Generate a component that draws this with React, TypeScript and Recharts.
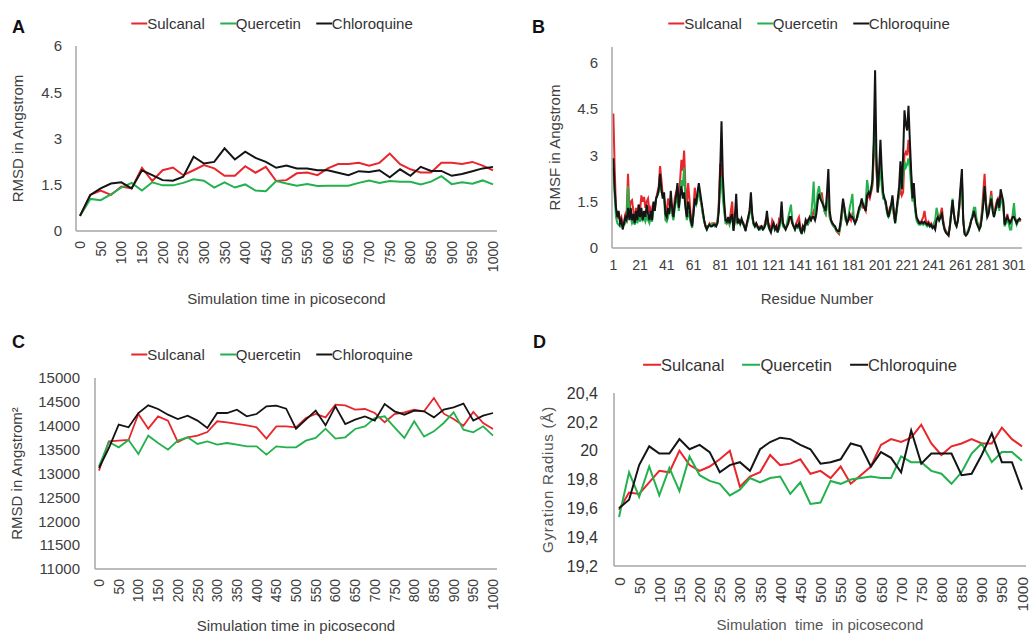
import React from 'react';
import { LineChart, Line, XAxis, YAxis } from 'recharts';

const FONT = '"Liberation Sans", Arial, Helvetica, sans-serif';
const RED = '#e8262b';
const GREEN = '#22b14c';
const BLACK = '#141414';
const AXIS = '#a6a6a6';
const TEXT = '#404040';

const SERIES = [
  { key: 'sulcanal', name: 'Sulcanal', color: RED },
  { key: 'quercetin', name: 'Quercetin', color: GREEN },
  { key: 'chloroquine', name: 'Chloroquine', color: BLACK },
];

// simulation time (ps)
const time = [0, 25, 50, 75, 100, 125, 150, 175, 200, 225, 250, 275, 300, 325, 350, 375, 400, 425, 450, 475, 500,
  525, 550, 575, 600, 625, 650, 675, 700, 725, 750, 775, 800, 825, 850, 875, 900, 925, 950, 975, 1000];
const timeTicks = [0, 50, 100, 150, 200, 250, 300, 350, 400, 450, 500, 550, 600, 650, 700, 750, 800, 850, 900, 950, 1000];

// A - RMSD
const aSulcanal = [0.49, 1.17, 1.31, 1.17, 1.44, 1.38, 2.05, 1.62, 1.97, 2.06, 1.81, 1.97, 2.14, 2.03, 1.79, 1.79, 2.1, 1.89, 2.08, 1.62, 1.65,
  1.87, 1.9, 1.81, 2.03, 2.17, 2.17, 2.21, 2.12, 2.21, 2.51, 2.17, 2.0, 1.9, 1.9, 2.21, 2.21, 2.17, 2.24, 2.12, 1.97];
const aQuercetin = [0.49, 1.04, 1.0, 1.19, 1.41, 1.56, 1.31, 1.58, 1.48, 1.48, 1.56, 1.68, 1.63, 1.41, 1.58, 1.41, 1.51, 1.31, 1.29, 1.62, 1.54,
  1.47, 1.52, 1.46, 1.47, 1.47, 1.47, 1.56, 1.64, 1.56, 1.62, 1.6, 1.6, 1.51, 1.6, 1.78, 1.52, 1.58, 1.53, 1.64, 1.51];
const aChloroquine = [0.49, 1.17, 1.38, 1.54, 1.58, 1.38, 1.97, 1.81, 1.65, 1.63, 1.76, 2.41, 2.19, 2.24, 2.68, 2.32, 2.57, 2.37, 2.24, 2.05, 2.12,
  2.03, 2.03, 1.97, 1.97, 1.89, 1.81, 1.94, 1.91, 1.97, 1.74, 2.0, 1.79, 2.08, 1.95, 1.95, 1.79, 1.85, 1.94, 2.03, 2.08];

// B - RMSF per residue (1..306)
const bTicks = [1, 21, 41, 61, 81, 101, 121, 141, 161, 181, 201, 221, 241, 261, 281, 301];
const bSulcanal = [
  4.35, 2.6, 1.25, 0.95, 1.1, 0.9, 1.0, 0.7, 0.85, 1.1,
  1.2, 2.4, 1.2, 1.5, 1.55, 1.2, 0.9, 1.3, 1.0, 1.4,
  1.2, 1.7, 1.5, 1.65, 1.3, 1.5, 1.6, 1.2, 1.3, 1.0,
  1.4, 1.2, 1.6, 1.8, 2.0, 2.65, 2.2, 1.7, 1.6, 1.3,
  1.2, 1.6, 1.4, 1.5, 1.3, 1.1, 1.6, 1.8, 1.9, 1.5,
  2.2, 2.85, 2.5, 3.15, 2.0, 1.3, 2.1, 1.6, 1.0, 0.8,
  1.3, 1.95, 1.5, 1.7, 1.9, 1.6, 1.4, 1.1, 0.9, 0.75,
  0.65, 0.7, 0.8, 0.75, 0.75, 0.8, 0.8, 0.75, 0.85, 1.5,
  2.7, 2.7, 1.8, 1.3, 0.9, 0.8, 0.9, 0.85, 1.2, 1.5,
  0.6, 0.9, 1.3, 0.85, 0.9, 0.8, 0.9, 0.85, 0.75, 0.6,
  0.8, 0.95, 1.2, 1.5, 1.0, 0.8, 0.75, 0.8, 0.7, 0.65,
  0.7, 0.7, 0.65, 0.7, 0.9, 1.0, 0.8, 0.7, 0.6, 0.9,
  0.8, 0.65, 0.7, 0.55, 0.9, 0.8, 1.1, 0.8, 0.7, 0.65,
  0.7, 0.8, 1.0, 1.0, 0.8, 0.7, 0.65, 0.8, 0.9, 1.0,
  0.7, 0.5, 0.7, 0.65, 0.85, 0.9, 0.8, 0.95, 0.9, 1.1,
  1.2, 0.9, 1.2, 1.6, 1.7, 1.6, 1.8, 1.5, 1.2, 1.1,
  1.5, 1.8, 1.0, 0.9, 0.8, 0.7, 0.65, 0.55, 0.5, 0.45,
  0.7, 1.0, 1.4, 1.2, 0.9, 0.85, 0.9, 1.0, 0.9, 1.1,
  1.0, 0.85, 0.9, 1.1, 1.2, 1.3, 1.5, 1.3, 1.3, 1.2,
  1.6, 1.7, 1.6, 1.8, 2.0, 3.0, 3.5, 2.5, 1.8, 2.3,
  2.8, 2.2, 1.7, 1.6, 1.4, 1.2, 1.1, 1.3, 1.4, 1.5,
  1.1, 0.9, 1.2, 1.5, 1.7, 1.9, 1.7, 1.8, 3.0, 3.1,
  3.0, 3.5, 3.0, 2.3, 1.6, 1.8, 1.3, 1.0, 0.9, 0.85,
  0.8, 0.9, 1.0, 1.2, 0.9, 0.8, 0.85, 0.75, 0.8, 0.7,
  0.75, 0.65, 0.9, 1.0, 1.0, 1.1, 1.3, 0.9, 0.65, 0.55,
  0.5, 0.45, 0.75, 1.1, 1.4, 1.1, 0.85, 0.7, 0.9, 1.3,
  1.8, 2.2, 0.9, 0.5, 0.45, 0.5, 0.6, 0.7, 0.9, 1.0,
  1.2, 1.1, 0.9, 0.75, 0.7, 0.8, 1.2, 1.8, 2.4, 1.5,
  1.1, 1.2, 1.5, 1.85, 1.3, 1.1, 1.3, 1.5, 1.6, 1.4,
  1.7, 1.6, 1.4, 0.8, 0.9, 1.1, 0.9, 0.85, 0.9, 1.0,
  1.1, 0.95, 0.85, 0.9, 0.9, 0.85,
];
const bQuercetin = [
  2.6, 1.7, 1.0, 0.8, 0.75, 0.7, 0.8, 0.7, 0.75, 0.8,
  1.0, 2.0, 1.1, 1.0, 0.8, 0.9, 0.75, 1.0, 0.8, 1.1,
  0.85, 1.0, 0.9, 1.0, 0.85, 1.0, 0.9, 0.8, 1.0, 0.85,
  1.2, 1.3, 1.6, 1.7, 1.8, 2.3, 1.8, 1.7, 1.6, 0.9,
  0.85, 1.0, 1.2, 1.4, 1.1, 0.9, 1.3, 1.5, 1.7, 1.2,
  1.6, 2.2, 2.0, 2.6, 1.5, 0.9, 1.2, 1.0, 0.8, 0.65,
  1.1, 1.5, 1.4, 1.6, 1.9, 1.6, 1.4, 1.1, 0.85, 0.7,
  0.6, 0.7, 0.75, 0.7, 0.8, 0.75, 0.7, 0.75, 0.85, 1.3,
  2.0, 2.3, 1.6, 1.2, 0.8, 0.8, 0.9, 0.75, 0.9, 1.0,
  0.6, 0.9, 1.2, 0.8, 0.85, 0.75, 0.9, 0.8, 0.7, 0.6,
  0.75, 0.9, 1.1, 1.4, 1.0, 0.75, 0.7, 0.75, 0.65, 0.6,
  0.6, 0.65, 0.6, 0.7, 0.75, 0.9, 0.7, 0.6, 0.55, 0.7,
  0.7, 0.6, 0.65, 0.55, 0.6, 0.8, 1.0, 0.7, 0.65, 0.6,
  0.8, 1.0, 1.2, 1.4, 0.9, 0.7, 0.6, 0.7, 0.65, 0.7,
  0.55, 0.5, 0.65, 0.55, 0.8, 0.75, 0.8, 0.9, 1.0, 1.5,
  2.15, 1.0, 1.3, 1.8, 2.0, 1.7, 1.6, 1.4, 1.2, 1.1,
  1.4, 1.6, 1.0, 0.85, 0.75, 0.7, 0.65, 0.55, 0.55, 0.5,
  0.7, 1.0, 1.5, 1.3, 0.9, 0.8, 1.0, 1.3, 1.5, 1.75,
  1.0, 0.8, 0.9, 1.0, 1.2, 1.3, 1.5, 1.4, 1.3, 1.5,
  2.2, 1.9, 1.7, 1.9, 2.1, 3.2, 4.0, 2.7, 1.8, 2.2,
  2.7, 2.0, 1.6, 1.6, 1.4, 1.1, 1.0, 1.1, 1.3, 1.6,
  1.1, 0.8, 1.1, 1.5, 1.8, 2.2, 1.9, 2.3, 2.8, 2.6,
  2.7, 2.9, 2.6, 2.0, 1.5, 1.7, 1.2, 0.9, 0.8, 0.75,
  0.75, 0.8, 0.75, 0.8, 0.75, 0.7, 0.75, 0.7, 0.7, 0.65,
  0.8, 0.9, 1.3, 1.1, 0.9, 1.0, 1.1, 0.8, 0.6, 0.5,
  0.45, 0.45, 0.7, 1.2, 1.6, 1.1, 0.8, 0.7, 0.9, 1.3,
  1.8, 2.3, 0.9, 0.5, 0.45, 0.5, 0.6, 0.75, 0.9, 1.1,
  1.3, 1.3, 0.9, 0.8, 0.6, 0.7, 1.1, 1.5, 2.0, 1.4,
  1.0, 1.2, 1.4, 1.7, 1.3, 1.0, 1.2, 1.3, 1.5, 1.2,
  1.6, 1.5, 1.3, 0.7, 0.8, 0.9, 0.8, 0.6, 0.6, 1.1,
  1.45, 0.9, 0.75, 0.85, 0.9, 0.95,
];
const bChloroquine = [
  2.9, 1.9, 1.3, 1.0, 1.2, 0.8, 0.9, 0.6, 0.8, 1.0,
  0.9, 1.3, 0.9, 1.3, 0.9, 1.1, 0.8, 1.2, 0.9, 1.4,
  1.0, 1.3, 0.9, 1.2, 1.0, 1.4, 1.1, 0.9, 1.2, 0.9,
  1.5, 1.2, 1.6, 1.7, 1.9, 2.4, 1.9, 1.6, 1.8, 1.1,
  1.0, 1.3, 1.1, 1.85, 1.3, 1.0, 1.4, 1.7, 2.1, 1.3,
  1.7, 2.0, 1.6, 1.8, 1.3, 1.0, 1.5, 1.3, 0.9, 0.7,
  1.1, 1.6, 1.4, 1.8, 2.1, 1.8, 1.5, 1.2, 0.9, 0.7,
  0.6, 0.7, 0.75, 0.7, 0.7, 0.75, 0.75, 0.7, 0.8, 1.2,
  2.5, 4.1, 2.3, 1.5, 0.9, 0.85, 1.0, 0.8, 1.0, 1.1,
  0.55, 1.0, 1.75, 0.8, 0.9, 0.8, 0.95, 0.8, 0.7, 0.55,
  0.8, 1.0, 1.2, 1.8, 1.1, 0.8, 0.7, 0.8, 0.7, 0.6,
  0.65, 0.7, 0.6, 0.65, 0.8, 1.2, 0.8, 0.6, 0.5, 0.7,
  0.8, 0.6, 0.7, 0.5, 0.7, 0.9, 1.5, 0.8, 0.7, 0.6,
  0.7, 0.8, 1.0, 1.0, 0.8, 0.7, 0.6, 0.75, 0.7, 0.8,
  0.6, 0.45, 0.7, 0.6, 0.9, 0.8, 0.9, 1.0, 0.9, 1.0,
  1.0, 0.9, 1.1, 1.5, 1.75, 1.6, 1.5, 1.4, 1.3, 1.2,
  1.8, 2.55, 1.2, 0.9, 0.8, 0.75, 0.7, 0.6, 0.55, 0.55,
  0.8, 1.2, 1.6, 1.3, 1.0, 0.8, 0.9, 1.1, 1.0, 1.0,
  0.9, 0.8, 0.9, 1.1, 1.3, 1.4, 1.6, 1.4, 1.3, 1.2,
  1.7, 1.8, 1.7, 1.9, 2.2, 3.5, 5.75, 3.0, 1.8, 2.5,
  3.5, 2.5, 1.8, 1.6, 1.5, 1.2, 1.0, 1.2, 1.4, 1.7,
  1.2, 0.8, 1.2, 1.6, 2.0, 2.8, 1.9, 3.0, 4.45, 4.0,
  3.8, 4.6, 3.5, 2.5, 1.6, 2.1, 1.4, 1.0, 0.9, 0.8,
  0.8, 0.85, 0.8, 0.85, 0.8, 0.75, 0.8, 0.7, 0.75, 0.65,
  0.7, 0.6, 0.9, 1.0, 0.9, 1.0, 1.1, 0.8, 0.6, 0.5,
  0.45, 0.4, 0.7, 1.1, 1.55, 1.1, 0.8, 0.7, 0.9, 1.4,
  2.0, 2.55, 0.9, 0.45, 0.4, 0.45, 0.55, 0.7, 0.9, 1.0,
  1.2, 1.0, 0.8, 0.7, 0.6, 0.7, 1.0, 1.4, 2.0, 1.4,
  1.0, 1.1, 1.4, 1.6, 1.2, 1.0, 1.2, 1.4, 1.6, 1.3,
  1.9, 1.7, 1.5, 0.75, 0.9, 1.0, 0.9, 0.8, 0.9, 1.0,
  1.0, 0.9, 0.8, 0.9, 0.95, 0.9,
];

// C - RMSD (Angstrom^2)
const cSulcanal = [13060, 13674, 13688, 13702, 14246, 13939, 14197, 14107, 13660, 13758, 13792, 13869, 14093, 14072, 14037, 14009, 13967,
  13730, 13988, 13988, 13967, 14162, 14246, 14176, 14442, 14428, 14337, 14351, 14267, 14072, 14246, 14281, 14337, 14302, 14581, 14253,
  14141, 14002, 14288, 14058, 13932];
const cQuercetin = [13150, 13660, 13548, 13702, 13408, 13792, 13639, 13499, 13688, 13758, 13618, 13674, 13604, 13639, 13604, 13569, 13569,
  13394, 13569, 13548, 13548, 13688, 13744, 13939, 13730, 13758, 13932, 13988, 14162, 14197, 13967, 13744, 14093, 13772, 13883, 14058,
  14281, 13918, 13862, 13988, 13792];
const cChloroquine = [13115, 13534, 14023, 13967, 14267, 14428, 14351, 14232, 14141, 14211, 14107, 13953, 14267, 14267, 14337, 14197, 14246,
  14407, 14421, 14358, 13939, 14127, 14316, 14009, 14407, 14037, 14127, 14197, 14107, 14456, 14302, 14232, 14316, 14302, 14176, 14337,
  14386, 14463, 14107, 14211, 14267];

// D - gyration radius
const dSulcanal = [19.59, 19.71, 19.7, 19.78, 19.86, 19.85, 20.0, 19.9, 19.86, 19.89, 19.94, 20.0, 19.75, 19.82, 19.85, 19.97, 19.9, 19.91,
  19.94, 19.84, 19.86, 19.81, 19.89, 19.77, 19.83, 19.89, 20.04, 20.08, 20.06, 20.09, 20.18, 20.05, 19.97, 20.03, 20.05, 20.08, 20.05,
  20.05, 20.16, 20.08, 20.03];
const dQuercetin = [19.54, 19.85, 19.68, 19.89, 19.69, 19.88, 19.72, 19.96, 19.83, 19.79, 19.77, 19.69, 19.73, 19.81, 19.78, 19.81, 19.82,
  19.7, 19.78, 19.63, 19.64, 19.79, 19.77, 19.8, 19.81, 19.82, 19.81, 19.81, 19.96, 19.92, 19.92, 19.86, 19.84, 19.77, 19.85, 19.98,
  20.05, 19.92, 19.99, 19.99, 19.93];
const dChloroquine = [19.6, 19.66, 19.9, 20.03, 19.98, 19.98, 20.08, 20.01, 20.04, 19.99, 19.85, 19.9, 19.92, 19.86, 20.01, 20.06, 20.09,
  20.08, 20.04, 20.01, 19.91, 19.92, 19.94, 20.05, 20.03, 19.89, 19.99, 19.95, 19.85, 20.14, 19.91, 19.98, 19.98, 19.98, 19.83, 19.84,
  19.97, 20.12, 19.92, 19.92, 19.73];

const timeRows = (s: number[], q: number[], c: number[]) =>
  time.map((t, i) => ({ x: t, sulcanal: s[i], quercetin: q[i], chloroquine: c[i] }));

const dataA = timeRows(aSulcanal, aQuercetin, aChloroquine);
const dataC = timeRows(cSulcanal, cQuercetin, cChloroquine);
const dataD = timeRows(dSulcanal, dQuercetin, dChloroquine);
const dataB = bSulcanal.map((v, i) => ({ x: i + 1, sulcanal: v, quercetin: bQuercetin[i], chloroquine: bChloroquine[i] }));

const RotatedTick = (props: any) => {
  const { x, y, payload, fontSize } = props;
  return (
    <g transform={`translate(${x},${y})`}>
      <text x={0} y={0} dy="0.36em" textAnchor="end" transform="rotate(-90)" fill={TEXT} fontSize={fontSize} fontFamily={FONT}>
        {payload.value}
      </text>
    </g>
  );
};

function SeriesKey({ cx, cy, fontSize, marker, gap }: { cx: number; cy: number; fontSize: number; marker: number; gap: number }) {
  return (
    <div style={{ position: 'absolute', left: cx, top: cy, transform: 'translate(-50%, -50%)', display: 'flex', gap, whiteSpace: 'nowrap',
      fontFamily: FONT, fontSize, color: '#333', lineHeight: 1 }}>
      {SERIES.map((s) => (
        <div key={s.key} style={{ display: 'flex', alignItems: 'center' }}>
          <span style={{ display: 'inline-block', width: marker, height: 2, background: s.color }} />
          <span>{s.name}</span>
        </div>
      ))}
    </div>
  );
}

const PanelLetter = ({ left, top, text }: { left: number; top: number; text: string }) => (
  <div style={{ position: 'absolute', left, top, fontFamily: FONT, fontWeight: 700, fontSize: 18, color: '#111', lineHeight: 1 }}>{text}</div>
);

const lines = (width: number) =>
  SERIES.map((s) => (
    <Line key={s.key} type="linear" dataKey={s.key} name={s.name} stroke={s.color} strokeWidth={width} dot={false} activeDot={false}
      isAnimationActive={false} />
  ));

const axisLine = { stroke: AXIS, strokeWidth: 1.5 };

export default function App() {
  return (
    <div style={{ position: 'absolute', left: 0, top: 0, width: 1031, height: 635, background: '#fff', overflow: 'hidden' }}>
      {/* A */}
      <PanelLetter left={12} top={18} text="A" />
      <SeriesKey cx={272} cy={23} fontSize={15} marker={16} gap={15} />
      <div style={{ position: 'absolute', left: 0, top: 0 }}>
        <LineChart width={515} height={315} data={dataA} margin={{ top: 46, right: 18, bottom: 0, left: 0 }}>
          <XAxis dataKey="x" type="number" domain={[0, 1000]} ticks={timeTicks} interval={0} padding={{ left: 4, right: 4 }}
            height={84} axisLine={axisLine} tickLine={false} tickSize={0} tickMargin={10} tick={<RotatedTick fontSize={14} />}
            label={{ value: 'Simulation time in picosecond', position: 'insideBottom', offset: 11, fill: TEXT, fontSize: 15, fontFamily: FONT }} />
          <YAxis type="number" domain={[0, 6]} ticks={[0, 1.5, 3, 4.5, 6]} width={76} axisLine={axisLine} tickLine={false} tickSize={0}
            tickMargin={14} tick={{ fill: TEXT, fontSize: 15, fontFamily: FONT }}
            label={{ value: 'RMSD in Angstrom', angle: -90, position: 'insideLeft', offset: 18, fill: TEXT, fontSize: 15, fontFamily: FONT,
              style: { textAnchor: 'middle' } }} />
          {lines(2)}
        </LineChart>
      </div>

      {/* B */}
      <PanelLetter left={532} top={18} text="B" />
      <SeriesKey cx={809} cy={23} fontSize={15} marker={16} gap={15} />
      <div style={{ position: 'absolute', left: 515, top: 0 }}>
        <LineChart width={516} height={315} data={dataB} margin={{ top: 47, right: 9, bottom: 0, left: 0 }}>
          <XAxis dataKey="x" type="number" domain={[0, 307]} ticks={bTicks} interval={0} height={67} axisLine={axisLine} tickLine={false}
            tickSize={0} tickMargin={12} tick={{ fill: TEXT, fontSize: 14, fontFamily: FONT }}
            label={{ value: 'Residue Number', position: 'insideBottom', offset: 11, fill: TEXT, fontSize: 15, fontFamily: FONT }} />
          <YAxis type="number" domain={[0, 6.5]} ticks={[0, 1.5, 3, 4.5, 6]} width={97} axisLine={axisLine} tickLine={false} tickSize={0}
            tickMargin={14} tick={{ fill: TEXT, fontSize: 15, fontFamily: FONT }}
            label={{ value: 'RMSF in Angstrom', angle: -90, position: 'insideLeft', offset: 40, fill: TEXT, fontSize: 15, fontFamily: FONT,
              style: { textAnchor: 'middle' } }} />
          {lines(2)}
        </LineChart>
      </div>

      {/* C */}
      <PanelLetter left={12} top={333} text="C" />
      <SeriesKey cx={272} cy={354} fontSize={15} marker={16} gap={15} />
      <div style={{ position: 'absolute', left: 0, top: 315 }}>
        <LineChart width={515} height={320} data={dataC} margin={{ top: 63, right: 18, bottom: 0, left: 0 }}>
          <XAxis dataKey="x" type="number" domain={[0, 1000]} ticks={timeTicks} interval={0} padding={{ left: 4, right: 4 }}
            height={66} axisLine={axisLine} tickLine={false} tickSize={0} tickMargin={10} tick={<RotatedTick fontSize={14} />}
            label={{ value: 'Simulation time in picosecond', position: 'insideBottom', offset: 4, fill: TEXT, fontSize: 15, fontFamily: FONT }} />
          <YAxis type="number" domain={[11000, 15000]} ticks={[11000, 11500, 12000, 12500, 13000, 13500, 14000, 14500, 15000]} width={95}
            axisLine={axisLine} tickLine={false} tickSize={0} tickMargin={15} tick={{ fill: TEXT, fontSize: 15, fontFamily: FONT }}
            label={{ value: 'RMSD in Angstrom²', angle: -90, position: 'insideLeft', offset: 17, fill: TEXT, fontSize: 15, fontFamily: FONT,
              style: { textAnchor: 'middle' } }} />
          {lines(1.8)}
        </LineChart>
      </div>

      {/* D */}
      <PanelLetter left={533} top={333} text="D" />
      <SeriesKey cx={800} cy={365} fontSize={16.5} marker={18} gap={18} />
      <div style={{ position: 'absolute', left: 515, top: 315 }}>
        <LineChart width={516} height={320} data={dataD} margin={{ top: 78, right: 5, bottom: 0, left: 0 }}>
          <XAxis dataKey="x" type="number" domain={[0, 1000]} ticks={timeTicks} interval={0} padding={{ left: 5, right: 4 }}
            height={69} axisLine={axisLine} tickLine={false} tickSize={0} tickMargin={11} tick={<RotatedTick fontSize={15.5} />}
            label={{ value: 'Simulation\u00a0 time\u00a0 in picosecond', position: 'insideBottom', offset: 5, fill: '#555', fontSize: 15,
              fontFamily: FONT }} />
          <YAxis type="number" domain={[19.2, 20.4]} ticks={[19.2, 19.4, 19.6, 19.8, 20, 20.2, 20.4]} width={99} axisLine={axisLine}
            tickLine={false} tickSize={0} tickMargin={16} tick={{ fill: '#333', fontSize: 16, fontFamily: FONT }}
            tickFormatter={(v: number) => String(v).replace('.', ',')}
            label={{ value: 'Gyration Radius (Å)', angle: -90, position: 'insideLeft', offset: 33, fill: '#555', fontSize: 15,
              fontFamily: FONT, style: { textAnchor: 'middle', letterSpacing: 0.8 } }} />
          {lines(2)}
        </LineChart>
      </div>
    </div>
  );
}
